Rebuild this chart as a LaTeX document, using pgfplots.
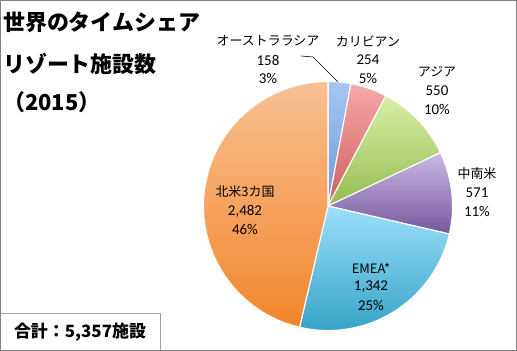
\documentclass[border=0pt]{standalone}
\usepackage{pgfplots}
\pgfplotsset{compat=1.18}
\usepackage{pgfplotstable}
\usepackage{fontspec}
\setmainfont{Carlito}
\newfontfamily\jp{Noto Sans CJK JP}

\definecolor{ausT}{HTML}{A8C6F4}\definecolor{ausB}{HTML}{6F97D8}
\definecolor{carT}{HTML}{F6A8A8}\definecolor{carB}{HTML}{D05E5E}
\definecolor{asiT}{HTML}{D8EFA6}\definecolor{asiB}{HTML}{94BC52}
\definecolor{latT}{HTML}{CABAE3}\definecolor{latB}{HTML}{76579E}
\definecolor{emeT}{HTML}{9DDFFB}\definecolor{emeB}{HTML}{35A3C6}
\definecolor{norT}{HTML}{F9C093}\definecolor{norB}{HTML}{F2862A}

\pgfplotstableread{
value top bottom
158 ausT ausB
254 carT carB
550 asiT asiB
571 latT latB
1342 emeT emeB
2482 norT norB
}\piedata

\begin{document}
\begin{tikzpicture}
\begin{axis}[
  x=1bp, y=1bp,
  xmin=0, xmax=517, ymin=0, ymax=351,
  hide axis,
  clip=false,
]
\def\cx{328}\def\cy{145}
\pgfmathsetmacro{\total}{0}
\pgfplotsforeachungrouped \i in {0,...,5}{%
  \pgfplotstablegetelem{\i}{value}\of\piedata
  \pgfmathsetmacro{\total}{\total+\pgfplotsretval}%
  \global\let\total\total
}
\gdef\angstart{90}
\pgfplotsforeachungrouped \i in {0,...,5}{%
  \pgfplotstablegetelem{\i}{value}\of\piedata \let\v\pgfplotsretval
  \pgfplotstablegetelem{\i}{top}\of\piedata \let\tc\pgfplotsretval
  \pgfplotstablegetelem{\i}{bottom}\of\piedata \let\bc\pgfplotsretval
  \pgfmathsetmacro{\angend}{\angstart-(\v/\total)*360}%
  \edef\cmd{\noexpand\shade[top color=\tc, bottom color=\bc, draw=white, line width=1.1pt, line join=round]
    (axis cs:\cx,\cy) -- ++(\angstart:124.5bp) arc[start angle=\angstart, end angle=\angend, radius=124.5bp] -- cycle;}%
  \cmd
  \global\let\angstart\angend
}

% leader line
\draw[black, line width=0.6pt] (axis cs:301,295) -- (axis cs:313,294) -- (axis cs:338,269);

% data labels
\def\lbl#1#2#3#4#5{%
  \node[anchor=center, inner sep=0pt] at (axis cs:#1,#2) {\jp\fontsize{13}{15}\selectfont #3};
  \node[anchor=center, inner sep=0pt] at (axis cs:#1,#2-19) {\fontsize{15}{17}\selectfont #4};
  \node[anchor=center, inner sep=0pt] at (axis cs:#1,#2-37.5) {\fontsize{15}{17}\selectfont #5};
}
\lbl{268}{310}{オーストララシア}{158}{3\%}
\lbl{368}{310}{カリビアン}{254}{5\%}
\lbl{437}{279}{アジア}{550}{10\%}
\lbl{477}{177}{中南米}{571}{11\%}
\lbl{245}{159}{北米3カ国}{2,482}{46\%}
\lbl{371}{83}{EMEA*}{1,342}{25\%}

% title
\node[anchor=west, inner sep=0pt] at (axis cs:3,329) {\jp\bfseries\fontsize{22}{26}\selectfont 世界のタイムシェア};
\node[anchor=west, inner sep=0pt] at (axis cs:3,287) {\jp\bfseries\fontsize{22}{26}\selectfont リゾート施設数};
\node[anchor=west, inner sep=0pt] at (axis cs:3,249) {\jp\bfseries\fontsize{22}{26}\selectfont （2015）};

% total box
\draw[color={rgb,255:red,160;green,160;blue,160}, line width=1pt] (axis cs:0.5,0.5) rectangle (axis cs:160,37);
\node[anchor=center, inner sep=0pt] at (axis cs:80,18.5) {\jp\bfseries\fontsize{17}{20}\selectfont 合計：5,357施設};

% outer border
\draw[color={rgb,255:red,128;green,128;blue,128}, line width=1.3pt] (axis cs:0.65,0.65) rectangle (axis cs:516.35,350.35);
\end{axis}
\end{tikzpicture}
\end{document}
